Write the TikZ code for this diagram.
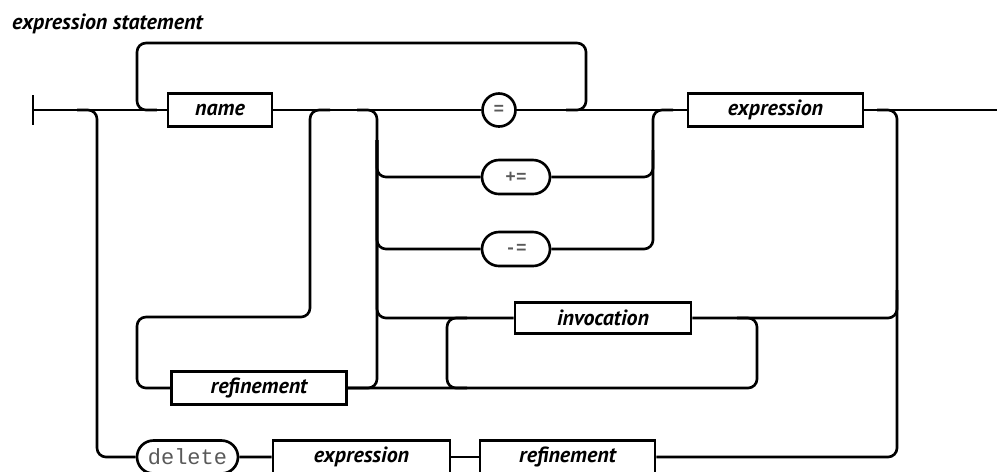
\documentclass[tikz,border=0pt]{standalone}
\usepackage{fontspec}
\setmainfont{PT Sans}
\setmonofont{Liberation Mono}
\usetikzlibrary{shapes.misc}
\tikzset{
  rail/.style={line width=1.5pt,rounded corners=0.18cm},
  nonterm/.style={draw,rectangle,line width=1.5pt,minimum height=0.66cm,inner sep=0pt,font=\bfseries\itshape\fontsize{12.5}{13}\selectfont},
  term/.style={draw,rounded rectangle,line width=1.5pt,minimum height=0.68cm,inner sep=0pt,text=black!65,font=\ttfamily\bfseries\fontsize{10}{11}\selectfont}
}
\begin{document}
\begin{tikzpicture}[x=0.02cm,y=-0.02cm]
    \useasboundingbox (0,0) rectangle (997,471);
    \node[anchor=west,font=\bfseries\itshape\fontsize{12.5}{13}\selectfont] (title) at (6,24) {expression statement};
    \coordinate (start) at (33,110);
    \coordinate (stop) at (1000,110);
    \coordinate (jL) at (97,110);
    \coordinate (jLoop) at (137,110);
    \coordinate (jRef) at (310,110);
    \coordinate (jOp) at (377,110);
    \coordinate (jBack) at (586,110);
    \coordinate (jExp) at (653,110);
    \coordinate (jEnd) at (897,110);
    \node[nonterm,minimum width=2.08cm] (name) at (220,110) {name};
    \node[term,circle,minimum size=0.66cm] (eq) at (499,110) {=};
    \node[nonterm,minimum width=3.5cm] (expr) at (775.5,110) {expression};
    \node[term,minimum width=1.36cm] (pluseq) at (516,177) {+=};
    \node[term,minimum width=1.36cm] (minuseq) at (516,249) {-=};
    \node[nonterm,minimum width=3.52cm,minimum height=0.62cm] (invoc) at (603,318) {invocation};
    \node[nonterm,minimum width=3.5cm] (refin) at (259,388) {refinement};
    \node[term,minimum width=2.02cm,minimum height=0.66cm,text=black!65,font=\ttfamily\fontsize{12.5}{13}\selectfont] (delete) at (187.5,457) {delete};
    \node[nonterm,minimum width=3.54cm] (exprB) at (361.5,457) {expression};
    \node[nonterm,minimum width=3.5cm] (refinB) at (567.5,457) {refinement};
    \draw[line width=1.6pt] ([yshift=0.3cm]start) -- ([yshift=-0.3cm]start);
    \draw[rail] (start) -- (name);
    \draw[rail] (name) -- (eq);
    \draw[rail] (eq) -- (expr);
    \draw[rail] (expr) -- (stop);
    \draw[rail] ([xshift=0.4cm]jLoop) -- (jLoop) -- ++(0,-67) -| (jBack) -- ([xshift=-0.4cm]jBack);
    \draw[rail] ([xshift=-0.4cm]jL) -- (jL) |- (delete);
    \draw[rail] (delete) -- (exprB);
    \draw[rail] (exprB) -- (refinB);
    \draw[rail] ([xshift=-0.4cm]jEnd) -- (jEnd) |- (refinB);
    \draw[rail] ([xshift=0.4cm]jRef) -- (jRef) -- (310,317) -| (137,388) -- (refin);
    \draw[rail] ([xshift=-0.4cm]jOp) -- (jOp) -- (377,388) -- (refin);
    \foreach \n in {pluseq,minuseq,invoc} \draw[rail] (377,140) |- (\n);
    \draw[rail] ([xshift=0.4cm]jExp) -- (jExp) |- (minuseq);
    \draw[rail] (pluseq) -| (653,150);
    \draw[rail] (invoc) -| (897,290);
    \draw[rail] (refin) -- (757,388) -- (757,318) -- (737,318);
    \draw[rail] (467,318) -- (447,318) -- (447,388) -- (467,388);
\end{tikzpicture}
\end{document}
